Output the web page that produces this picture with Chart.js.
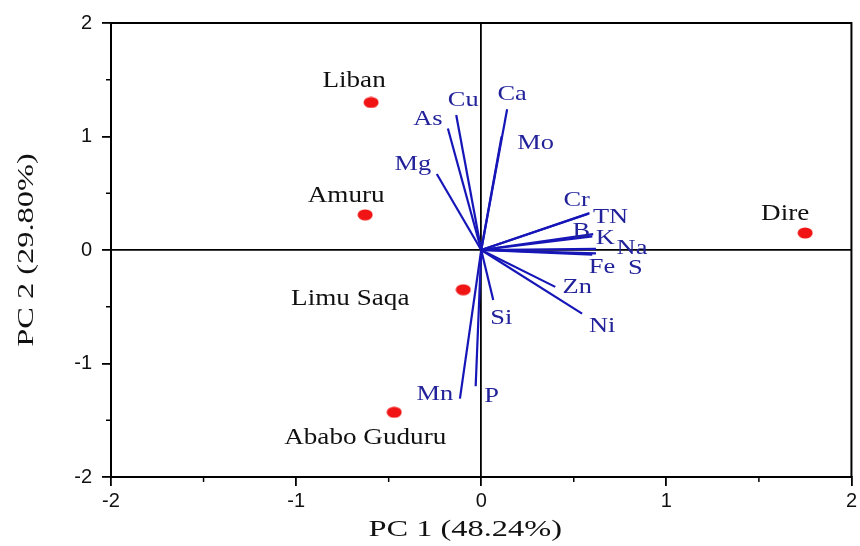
<!DOCTYPE html>
<html>
<head>
<meta charset="utf-8">
<script src="https://cdn.jsdelivr.net/npm/chart.js@4"></script>
<style>
  html, body { margin: 0; padding: 0; background: #fff; }
  #wrap { width: 860px; height: 546px; }
</style>
</head>
<body>
<div id="wrap"><canvas id="biplot"></canvas></div>
<script>
// sample scores (red dots)
const sampleNames = ['Liban', 'Amuru', 'Limu Saqa', 'Ababo Guduru', 'Dire'];
const samplePC1 = [-0.595, -0.627, -0.097, -0.47, 1.75];
const samplePC2 = [1.30, 0.31, -0.35, -1.43, 0.15];

// variable loadings (blue vectors)
const varNames = ['Ca', 'Cu', 'As', 'Mg', 'Mo', 'Cr', 'TN', 'B', 'K', 'Na', 'Fe', 'S', 'Zn', 'Ni', 'Si', 'Mn', 'P'];
const varPC1 = [0.14, -0.135, -0.18, -0.24, 0.11, 0.58, 0.585, 0.605, 0.60, 0.62, 0.62, 0.60, 0.40, 0.545, 0.065, -0.115, -0.03];
const varPC2 = [1.24, 1.19, 1.07, 0.67, 1.00, 0.32, 0.325, 0.14, 0.12, 0.01, -0.03, -0.04, -0.325, -0.56, -0.44, -1.31, -1.20];

const axisTicks = [-2, -1, 0, 1, 2];
const minorTicks = [-1.5, -0.5, 0.5, 1.5];

// label offsets in pixels from the mark
const sampleLabelOffset = {
    'Liban': [-17, -21], 'Amuru': [-19, -19], 'Limu Saqa': [-113, 9],
    'Ababo Guduru': [-29, 26], 'Dire': [-20, -19]
};
const varLabelOffset = {
    'Ca': [5, -15], 'Cu': [7, -15], 'As': [-20, -9], 'Mg': [-24, -10], 'Mo': [34, 7],
    'Cr': [-12, -13], 'TN': [21, 4], 'B': [-12, -3], 'K': [13, 2], 'Na': [36, -1],
    'Fe': [6, 14], 'S': [43, 14], 'Zn': [22, 0], 'Ni': [20, 13], 'Si': [8, 18],
    'Mn': [-25, -4], 'P': [16, 10]
};

// slightly wide red dot
const dot = document.createElement('canvas');
dot.width = 16; dot.height = 12;
const dctx = dot.getContext('2d');
dctx.fillStyle = '#f01414';
dctx.beginPath();
dctx.ellipse(8, 6, 7.5, 5.5, 0, 0, Math.PI * 2);
dctx.fill();

const datasets = [];
varNames.forEach((name, i) => {
    datasets.push({
        label: name,
        data: [{x: 0, y: 0}, {x: varPC1[i], y: varPC2[i]}],
        showLine: true,
        borderColor: '#1616b8',
        borderWidth: 2.2,
        pointRadius: 0,
        fill: false
    });
});
datasets.push({
    label: 'samples',
    data: sampleNames.map((n, i) => ({x: samplePC1[i], y: samplePC2[i]})),
    pointStyle: dot,
    pointRadius: 6
});

// draws the text labels, the frame, minor ticks and axis titles
const biplotExtras = {
    id: 'biplotExtras',
    afterDatasetsDraw(chart) {
        const ctx = chart.ctx;
        const xs = chart.scales.x, ys = chart.scales.y;
        const area = chart.chartArea;

        ctx.save();
        // top and right frame
        ctx.strokeStyle = '#000';
        ctx.lineWidth = 2;
        ctx.beginPath();
        ctx.moveTo(area.left, area.top);
        ctx.lineTo(area.right, area.top);
        ctx.lineTo(area.right, area.bottom);
        ctx.stroke();

        // minor ticks
        ctx.lineWidth = 1.5;
        minorTicks.forEach(v => {
            const px = xs.getPixelForValue(v);
            ctx.beginPath(); ctx.moveTo(px, area.bottom); ctx.lineTo(px, area.bottom + 5); ctx.stroke();
            const py = ys.getPixelForValue(v);
            ctx.beginPath(); ctx.moveTo(area.left - 5, py); ctx.lineTo(area.left, py); ctx.stroke();
        });

        function wideText(text, x, y, font, color, sx, rot) {
            ctx.save();
            ctx.translate(x, y);
            if (rot) ctx.rotate(rot);
            ctx.scale(sx, 1);
            ctx.font = font;
            ctx.fillStyle = color;
            ctx.textAlign = 'center';
            ctx.textBaseline = 'middle';
            ctx.fillText(text, 0, 0);
            ctx.restore();
        }

        sampleNames.forEach((name, i) => {
            const off = sampleLabelOffset[name];
            wideText(name, xs.getPixelForValue(samplePC1[i]) + off[0], ys.getPixelForValue(samplePC2[i]) + off[1],
                '23px "Liberation Serif"', '#111', 1.18);
        });
        varNames.forEach((name, i) => {
            const off = varLabelOffset[name];
            wideText(name, xs.getPixelForValue(varPC1[i]) + off[0], ys.getPixelForValue(varPC2[i]) + off[1],
                '22px "Liberation Serif"', '#22229a', 1.2);
        });

        // axis titles
        wideText('PC 1 (48.24%)', (area.left + area.right) / 2 - 16, 530, '24px "Liberation Serif"', '#111', 1.35);
        wideText('PC 2 (29.80%)', 27, (area.top + area.bottom) / 2, '24px "Liberation Serif"', '#111', 1.35, -Math.PI / 2);
        ctx.restore();
    }
};

new Chart(document.getElementById('biplot'), {
    type: 'scatter',
    data: { datasets: datasets },
    options: {
        responsive: true,
        maintainAspectRatio: false,
        animation: false,
        layout: { padding: { top: 23, right: 7, left: 0, bottom: 0 } },
        plugins: {
            legend: { display: false },
            tooltip: { enabled: false }
        },
        scales: {
            x: {
                type: 'linear',
                min: -2, max: 2,
                afterFit: s => { s.height = 69; },
                afterBuildTicks: s => { s.ticks = axisTicks.map(v => ({value: v})); },
                ticks: { font: { family: 'Liberation Sans', size: 20 }, color: '#111', padding: 3, maxRotation: 0 },
                grid: {
                    color: c => (c.tick && c.tick.value === 0) ? '#000' : 'rgba(0,0,0,0)',
                    tickColor: '#000', tickLength: 9, lineWidth: 1.8
                },
                border: { color: '#000', width: 2 }
            },
            y: {
                type: 'linear',
                min: -2, max: 2,
                afterFit: s => { s.width = 111; },
                afterBuildTicks: s => { s.ticks = axisTicks.map(v => ({value: v})); },
                ticks: { font: { family: 'Liberation Sans', size: 20 }, color: '#111', padding: 10 },
                grid: {
                    color: c => (c.tick && c.tick.value === 0) ? '#000' : 'rgba(0,0,0,0)',
                    tickColor: '#000', tickLength: 9, lineWidth: 1.8
                },
                border: { color: '#000', width: 2 }
            }
        }
    },
    plugins: [biplotExtras]
});
</script>
</body>
</html>
